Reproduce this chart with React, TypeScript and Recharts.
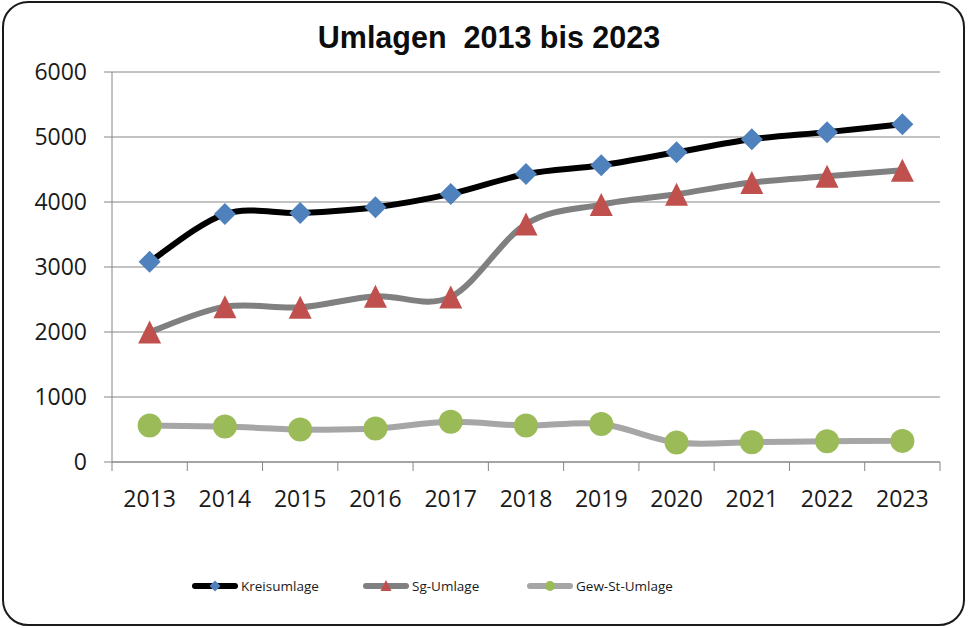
import React from 'react'
import { LineChart, Line, XAxis, YAxis, CartesianGrid } from 'recharts'

const years = ['2013', '2014', '2015', '2016', '2017', '2018', '2019', '2020', '2021', '2022', '2023']
const kreisumlage = [3080, 3815, 3830, 3920, 4125, 4430, 4565, 4765, 4965, 5075, 5195]
const sgUmlage = [2000, 2390, 2380, 2550, 2540, 3660, 3960, 4120, 4300, 4395, 4490]
const gewStUmlage = [560, 545, 500, 515, 620, 560, 585, 300, 305, 320, 325]
const yTicks = [0, 1000, 2000, 3000, 4000, 5000, 6000]
const seriesNames = ['Kreisumlage', 'Sg-Umlage', 'Gew-St-Umlage']

const data = years.map((year, i) => ({
  year,
  kreis: kreisumlage[i],
  sg: sgUmlage[i],
  gew: gewStUmlage[i]
}))

const WIDTH = 970
const HEIGHT = 628
const MARGIN = { top: 72, right: 30, bottom: 136, left: 0 }
const Y_AXIS_WIDTH = 112
const BAND = (WIDTH - MARGIN.right - Y_AXIS_WIDTH) / years.length

const FONT = '"Open Sans", sans-serif'
const GRID = '#868686'

const LINE_COLORS = ['#000000', '#808080', '#a6a6a6']
const MARKER_COLORS = ['#4f81bd', '#c0504d', '#9bbb59']
const LEGEND_WIDTHS = [171, 164, 150]

// Excel style smoothing (Catmull-Rom like bezier segments)
const excelSmooth = (context: any) => {
  let pts: [number, number][] = []
  return {
    areaStart() {},
    areaEnd() {},
    lineStart() {
      pts = []
    },
    point(x: number, y: number) {
      pts.push([+x, +y])
    },
    lineEnd() {
      if (!pts.length) return
      context.moveTo(pts[0][0], pts[0][1])
      const t = 1 / 6
      for (let i = 0; i < pts.length - 1; i++) {
        const p0 = pts[i - 1] ?? pts[i]
        const p1 = pts[i]
        const p2 = pts[i + 1]
        const p3 = pts[i + 2] ?? p2
        context.bezierCurveTo(
          p1[0] + (p2[0] - p0[0]) * t,
          p1[1] + (p2[1] - p0[1]) * t,
          p2[0] - (p3[0] - p1[0]) * t,
          p2[1] - (p3[1] - p1[1]) * t,
          p2[0],
          p2[1]
        )
      }
    }
  }
}

const diamondPoints = (cx: number, cy: number, r: number) =>
  `${cx},${cy - r} ${cx + r},${cy} ${cx},${cy + r} ${cx - r},${cy}`

const trianglePoints = (cx: number, cy: number, r: number) =>
  `${cx},${cy - r} ${cx + r},${cy + r} ${cx - r},${cy + r}`

const Marker = ({ kind, cx, cy, size }: { kind: number; cx: number; cy: number; size: number }) => {
  if (kind === 0) return <polygon points={diamondPoints(cx, cy, size)} fill={MARKER_COLORS[0]} />
  if (kind === 1) return <polygon points={trianglePoints(cx, cy, size)} fill={MARKER_COLORS[1]} />
  return <circle cx={cx} cy={cy} r={size} fill={MARKER_COLORS[2]} />
}

const makeDot = (kind: number, size: number) => (props: any) => {
  const { cx, cy, index } = props
  if (cx == null || cy == null) return <g key={`dot-${kind}-${index}`} />
  return (
    <g key={`dot-${kind}-${index}`}>
      <Marker kind={kind} cx={cx} cy={cy} size={size} />
    </g>
  )
}

const XTick = (props: any) => {
  const { x, y, payload, index } = props
  const last = index === years.length - 1
  return (
    <g>
      <line x1={x - BAND / 2} y1={y} x2={x - BAND / 2} y2={y + 9} stroke={GRID} />
      {last && <line x1={x + BAND / 2} y1={y} x2={x + BAND / 2} y2={y + 9} stroke={GRID} />}
      <text x={x} y={y + 44.5} textAnchor="middle" fontSize={23} fontFamily={FONT} fill="#1a1a1a">
        {payload.value}
      </text>
    </g>
  )
}

const LegendIcon = ({ kind }: { kind: number }) => (
  <svg width={46} height={14} style={{ display: 'block' }}>
    <line x1={3} y1={7} x2={43} y2={7} stroke={LINE_COLORS[kind]} strokeWidth={6} strokeLinecap="round" />
    <Marker kind={kind} cx={23} cy={kind === 1 ? 6.5 : 7} size={kind === 2 ? 5 : 5.5} />
  </svg>
)

export default function App() {
  return (
    <div style={{ position: 'absolute', left: 0, top: 0, width: WIDTH, height: HEIGHT, background: '#fff' }}>
      <div
        style={{
          position: 'absolute',
          left: 2,
          top: 1,
          width: 963,
          height: 625,
          boxSizing: 'border-box',
          border: '2.5px solid #1a1a1a',
          borderRadius: 26
        }}
      />
      <div
        style={{
          position: 'absolute',
          left: 4,
          top: 22,
          width: WIDTH,
          textAlign: 'center',
          fontFamily: 'Arial, "Liberation Sans", sans-serif',
          fontWeight: 'bold',
          fontSize: 30.5,
          lineHeight: '31px',
          whiteSpace: 'pre',
          color: '#0d0d0d'
        }}
      >
        {'Umlagen  2013 bis 2023'}
      </div>
      <div style={{ position: 'absolute', left: 0, top: 0 }}>
        <LineChart width={WIDTH} height={HEIGHT} data={data} margin={MARGIN}>
          <CartesianGrid vertical={false} stroke={GRID} />
          <XAxis
            dataKey="year"
            height={30}
            padding={{ left: BAND / 2, right: BAND / 2 }}
            axisLine={{ stroke: GRID }}
            tickLine={false}
            tickSize={0}
            tickMargin={0}
            interval={0}
            tick={<XTick />}
          />
          <YAxis
            width={Y_AXIS_WIDTH}
            domain={[0, 6000]}
            ticks={yTicks}
            interval={0}
            axisLine={{ stroke: GRID }}
            tickLine={{ stroke: GRID }}
            tickSize={8}
            tickMargin={17}
            tick={{ fontSize: 23, fontFamily: FONT, fill: '#1a1a1a' }}
          />
          <Line
            dataKey="gew"
            name={seriesNames[2]}
            type={excelSmooth as any}
            stroke={LINE_COLORS[2]}
            strokeWidth={6}
            strokeLinecap="round"
            strokeLinejoin="round"
            dot={makeDot(2, 12)}
            activeDot={false}
            isAnimationActive={false}
          />
          <Line
            dataKey="sg"
            name={seriesNames[1]}
            type={excelSmooth as any}
            stroke={LINE_COLORS[1]}
            strokeWidth={6}
            strokeLinecap="round"
            strokeLinejoin="round"
            dot={makeDot(1, 11.5)}
            activeDot={false}
            isAnimationActive={false}
          />
          <Line
            dataKey="kreis"
            name={seriesNames[0]}
            type={excelSmooth as any}
            stroke={LINE_COLORS[0]}
            strokeWidth={6}
            strokeLinecap="round"
            strokeLinejoin="round"
            dot={makeDot(0, 11)}
            activeDot={false}
            isAnimationActive={false}
          />
        </LineChart>
      </div>
      <div
        style={{
          position: 'absolute',
          left: 192,
          top: 577,
          display: 'flex',
          alignItems: 'center',
          fontFamily: FONT,
          fontSize: 13.5,
          color: '#1a1a1a'
        }}
      >
        {seriesNames.map((name, i) => (
          <div key={name} style={{ display: 'flex', alignItems: 'center', width: LEGEND_WIDTHS[i] }}>
            <LegendIcon kind={i} />
            <span style={{ marginLeft: 3 }}>{name}</span>
          </div>
        ))}
      </div>
    </div>
  )
}
